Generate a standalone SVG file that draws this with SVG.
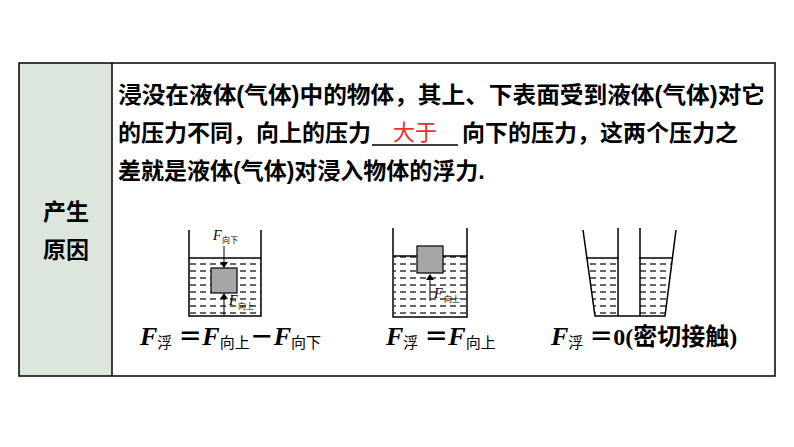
<svg xmlns="http://www.w3.org/2000/svg" width="794" height="447" viewBox="0 0 794 447">
<style>
.t{font-family:"Liberation Sans","Noto Sans CJK SC",sans-serif;font-size:23px;font-weight:bold;fill:#000}
.w{stroke:#000;stroke-width:1.5;fill:none}
.d{stroke:#000;stroke-width:1.2;stroke-dasharray:6 3}
.F{font-family:"Liberation Serif",serif;font-style:italic;font-weight:bold;font-size:26px}
.s{font-family:"Noto Sans CJK SC",sans-serif;font-size:15px}
.e{font-family:"Liberation Serif","Noto Sans CJK SC",serif;font-weight:bold;font-size:24px}
.fl{font-family:"Liberation Serif",serif;font-style:italic;font-size:14px}
.fs{font-family:"Noto Sans CJK SC",sans-serif;font-size:8px}
</style>
<defs><marker id="a" markerWidth="6" markerHeight="8" refX="5" refY="4" orient="auto" markerUnits="userSpaceOnUse"><path d="M0,0L6,4L0,8z"/></marker>
<pattern id="wd" width="10" height="7" patternUnits="userSpaceOnUse" y="2"><line x1="0" y1="3" x2="6" y2="3" stroke="#000" stroke-width="1.2"/></pattern></defs>
<rect x="0" y="0" width="794" height="447" fill="#fff"/>
<g id="table">
<rect x="19" y="63" width="93" height="313" fill="#dde6dd"/>
<rect x="19" y="63" width="756" height="313" fill="none" stroke="#000" stroke-width="1.5"/>
<line x1="112" y1="63" x2="112" y2="376" stroke="#000" stroke-width="1.5"/>
<text class="t" x="66" y="220" text-anchor="middle" font-size="21">产生</text>
<text class="t" x="66" y="258" text-anchor="middle" font-size="21">原因</text>
</g>
<g id="text">
<text class="t" x="118" y="103" textLength="647" lengthAdjust="spacingAndGlyphs">浸没在液体(气体)中的物体，其上、下表面受到液体(气体)对它</text>
<text class="t" x="118" y="141">的压力不同，向上的压力</text>
<line x1="372" y1="145" x2="458" y2="145" stroke="#000" stroke-width="1.3"/>
<text x="415" y="140" text-anchor="middle" font-family="Liberation Sans,Noto Sans CJK SC,sans-serif" font-size="22" fill="#e8312a">大于</text>
<text class="t" x="462" y="141">向下的压力，这两个压力之</text>
<text class="t" x="118" y="179">差就是液体(气体)对浸入物体的浮力.</text>
</g>
<g id="beaker1">
<rect x="190" y="258" width="71" height="58" fill="url(#wd)"/>
<line class="w" x1="189" y1="258" x2="261" y2="258"/>
<path class="w" d="M189,230V316H261V230"/>
<rect x="211" y="268" width="26" height="25" fill="#a6a6a6" stroke="#000" stroke-width="1.2"/>
<line x1="224" y1="246" x2="224" y2="267" stroke="#000" marker-end="url(#a)"/>
<line x1="224" y1="316" x2="224" y2="294" stroke="#000" marker-end="url(#a)"/>
<text class="fl" x="213" y="240">F</text><text class="fs" x="222" y="243">向下</text>
<text class="fl" x="229" y="305">F</text><text class="fs" x="238" y="309">向上</text>
</g>
<g id="beaker2">
<rect x="394" y="256" width="73" height="61" fill="url(#wd)"/>
<line class="w" x1="393" y1="256" x2="467" y2="256"/>
<path class="w" d="M393,228V317H467V228"/>
<rect x="417" y="246" width="26" height="27" fill="#a6a6a6" stroke="#000" stroke-width="1.2"/>
<line x1="430" y1="301" x2="430" y2="275" stroke="#000" marker-end="url(#a)"/>
<text class="fl" x="434" y="298">F</text><text class="fs" x="444" y="302">向上</text>
</g>
<g id="beaker3">
<clipPath id="c3"><path d="M586,258H618V316H595zM640,258H673L665,316H640z"/></clipPath>
<rect x="585" y="258" width="90" height="58" fill="url(#wd)" clip-path="url(#c3)"/>
<line class="w" x1="586" y1="258" x2="673" y2="258"/>
<path class="w" d="M583,230L595,316H665L676,230"/>
<path class="w" d="M618,228V316M640,228V316"/>
<rect x="619" y="257" width="20" height="58" fill="#fff"/>
</g>
<g id="formulas">
<text x="140" y="345"><tspan class="F">F</tspan><tspan class="s" dy="3">浮</tspan><tspan class="e" dy="-3"> ＝</tspan><tspan class="F">F</tspan><tspan class="s" dy="3">向上</tspan><tspan class="e" dy="-3">－</tspan><tspan class="F">F</tspan><tspan class="s" dy="3">向下</tspan></text>
<text x="386" y="345"><tspan class="F">F</tspan><tspan class="s" dy="3">浮</tspan><tspan class="e" dy="-3"> ＝</tspan><tspan class="F">F</tspan><tspan class="s" dy="3">向上</tspan></text>
<text x="551" y="345"><tspan class="F">F</tspan><tspan class="s" dy="3">浮</tspan><tspan class="e" dy="-3"> ＝0(密切接触)</tspan></text>
</g>
</svg>
